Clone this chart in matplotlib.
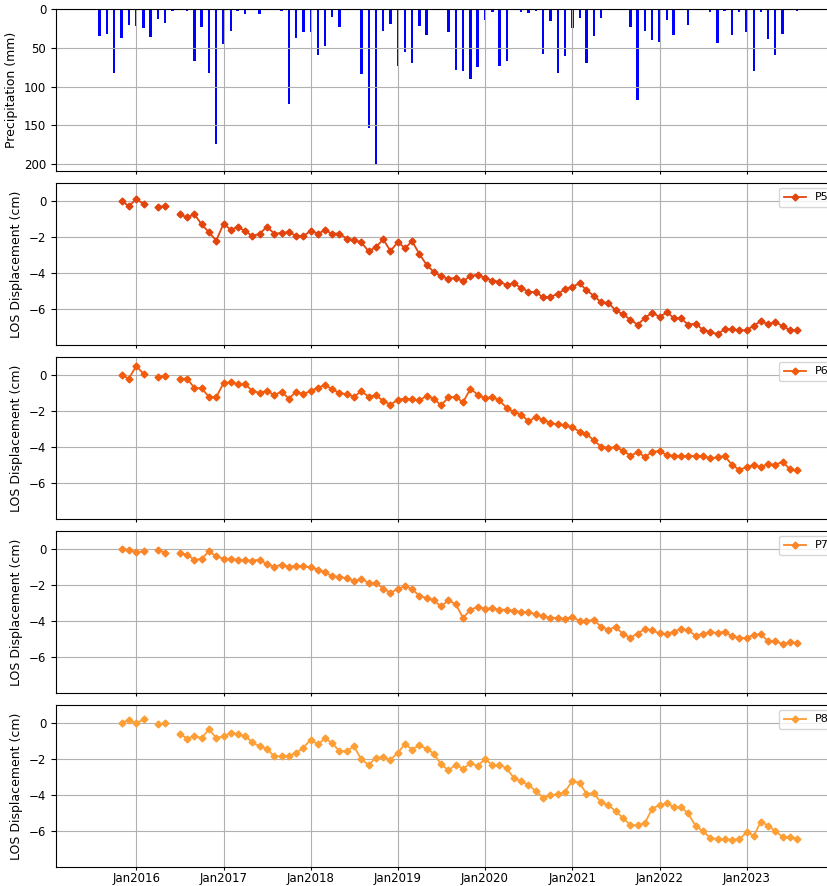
import datetime as dt

import matplotlib
matplotlib.use("Agg")
import matplotlib.dates as mdates
import matplotlib.pyplot as plt
import numpy as np
import pandas as pd

nan = np.nan

# Monthly precipitation, Jul 2015 .. Aug 2023 (mm)
precip_mm = [
    1.7, 35, 32, 82, 37.5, 21,                          # 2015 Jul-Dec
    21.5, 25, 36, 13, 18.5, 2.6, 0, 3, 67, 23, 82, 174,  # 2016
    45, 29, 2, 7, 0, 7, 0, 0, 3, 123, 37, 30,            # 2017
    30, 59.5, 48, 10, 23, 0, 0, 84, 153, 199.6, 29, 19,  # 2018
    74, 56, 70, 22.4, 33.6, 0, 1.7, 30, 79, 80.6, 90, 75,  # 2019
    14, 4.3, 73, 67.7, 0, 3.4, 5.6, 3, 57.8, 16, 82.8, 61,  # 2020
    24.6, 12, 70, 34.5, 12, 0, 0, 1.3, 23, 117, 29, 40,     # 2021
    43, 14, 33, 1.3, 21, 0, 0, 3.4, 44, 2.2, 33.6, 4.3,     # 2022
    30, 80, 4.3, 39, 59.5, 32, 0, 3,                        # 2023 Jan-Aug
]

# Monthly LOS displacement, Nov 2015 .. Aug 2023 (cm); NaN = no acquisition
p5 = [
    0.0, -0.28,
    0.09, -0.15, nan, -0.31, -0.30, nan, -0.74, -0.91, -0.74, -1.30, -1.74, -2.20,
    -1.26, -1.61, -1.43, -1.67, -1.94, -1.83, -1.43, -1.81, -1.78, -1.72, -1.94, -1.94,
    -1.67, -1.81, -1.63, -1.81, -1.81, -2.09, -2.17, -2.30, -2.80, -2.56, -2.13, -2.78,
    -2.28, -2.63, -2.22, -2.94, -3.54, -3.95, -4.19, -4.31, -4.28, -4.46, -4.17, -4.09,
    -4.28, -4.43, -4.48, -4.67, -4.57, -4.83, -5.04, -5.07, -5.35, -5.31, -5.17, -4.89,
    -4.76, -4.57, -4.96, -5.26, -5.63, -5.67, -6.07, -6.30, -6.59, -6.87, -6.50, -6.20,
    -6.44, -6.19, -6.48, -6.52, -6.87, -6.81, -7.15, -7.28, -7.39, -7.13, -7.11, -7.19,
    -7.17, -6.93, -6.67, -6.85, -6.72, -6.96, -7.17, -7.17,
]
p6 = [
    0.0, -0.20,
    0.50, 0.06, nan, -0.09, -0.06, nan, -0.22, -0.20, -0.72, -0.74, -1.22, -1.24,
    -0.44, -0.41, -0.52, -0.52, -0.87, -1.00, -0.87, -1.11, -0.93, -1.31, -0.93, -1.06,
    -0.89, -0.70, -0.57, -0.78, -1.00, -1.07, -1.20, -0.91, -1.20, -1.13, -1.44, -1.65,
    -1.37, -1.31, -1.35, -1.41, -1.17, -1.32, -1.69, -1.24, -1.22, -1.52, -0.76, -1.09,
    -1.30, -1.22, -1.41, -1.83, -2.04, -2.20, -2.57, -2.33, -2.50, -2.67, -2.74, -2.80,
    -2.91, -3.15, -3.28, -3.63, -3.98, -4.06, -4.00, -4.20, -4.48, -4.30, -4.54, -4.30,
    -4.20, -4.46, -4.48, -4.50, -4.50, -4.50, -4.50, -4.63, -4.57, -4.50, -5.00, -5.26,
    -5.13, -4.98, -5.13, -4.93, -5.00, -4.81, -5.24, -5.30,
]
p7 = [
    0.0, -0.04,
    -0.19, -0.13, nan, -0.07, -0.20, nan, -0.22, -0.31, -0.61, -0.54, -0.13, -0.41,
    -0.54, -0.54, -0.61, -0.63, -0.65, -0.59, -0.85, -0.98, -0.87, -0.98, -0.94, -0.96,
    -1.02, -1.15, -1.28, -1.52, -1.54, -1.63, -1.78, -1.65, -1.89, -1.89, -2.20, -2.43,
    -2.22, -2.06, -2.22, -2.61, -2.72, -2.86, -3.19, -2.85, -3.07, -3.83, -3.37, -3.22,
    -3.31, -3.30, -3.37, -3.37, -3.44, -3.50, -3.52, -3.63, -3.74, -3.83, -3.83, -3.87,
    -3.78, -4.00, -4.00, -3.93, -4.33, -4.48, -4.33, -4.72, -4.93, -4.70, -4.44, -4.52,
    -4.69, -4.72, -4.59, -4.44, -4.52, -4.81, -4.72, -4.63, -4.65, -4.61, -4.85, -4.94,
    -4.93, -4.78, -4.72, -5.13, -5.13, -5.28, -5.19, -5.20,
]
p8 = [
    0.0, 0.17,
    -0.02, 0.20, nan, -0.07, -0.02, nan, -0.59, -0.87, -0.74, -0.83, -0.35, -0.83,
    -0.74, -0.56, -0.63, -0.72, -1.07, -1.30, -1.43, -1.85, -1.85, -1.83, -1.67, -1.37,
    -0.93, -1.19, -0.85, -1.11, -1.57, -1.56, -1.30, -2.02, -2.33, -1.93, -1.91, -2.04,
    -1.65, -1.15, -1.48, -1.24, -1.43, -1.70, -2.30, -2.63, -2.31, -2.56, -2.22, -2.39,
    -2.00, -2.35, -2.31, -2.52, -3.06, -3.24, -3.44, -3.78, -4.15, -4.02, -3.96, -3.83,
    -3.20, -3.33, -3.94, -3.91, -4.41, -4.57, -4.89, -5.28, -5.67, -5.69, -5.56, -4.76,
    -4.56, -4.46, -4.67, -4.67, -5.02, -5.72, -6.00, -6.37, -6.46, -6.46, -6.48, -6.46,
    -6.07, -6.26, -5.48, -5.70, -6.00, -6.33, -6.33, -6.44,
]

point_names = ["P5", "P6", "P7", "P8"]
point_series = [p5, p6, p7, p8]
point_colors = ["#e2440e", "#f25b0c", "#fb8629", "#fd9f34"]

precip_dates = pd.date_range("2015-07-01", periods=len(precip_mm), freq="MS")
disp_dates = pd.date_range("2015-11-01", periods=len(p5), freq="MS")

plt.rcParams["font.size"] = 9
plt.rcParams["xtick.labelsize"] = 8.5
plt.rcParams["ytick.labelsize"] = 8.5

W, H = 827, 886
fig = plt.figure(figsize=(W / 100, H / 100), dpi=100)


def _axes_px(left, top, right, bottom):
    return fig.add_axes([left / W, 1 - bottom / H, (right - left) / W, (bottom - top) / H])


x_left, x_right = 56, 829
ax_p = _axes_px(x_left, 9, x_right, 171)
panel_tops = [183, 357, 531, 705]
panel_axes = [_axes_px(x_left, t, x_right, t + 162) for t in panel_tops]

xlim = (dt.datetime(2015, 1, 30), dt.datetime(2023, 12, 12))

# Precipitation (inverted bars hanging from the top)
ax_p.bar(precip_dates, precip_mm, width=10, color="blue")
ax_p.set_ylim(209, 0)
ax_p.set_yticks([0, 50, 100, 150, 200])
ax_p.set_ylabel("Precipitation (mm)")

width_px = x_right - x_left
for ax, name, series, color in zip(panel_axes, point_names, point_series, point_colors):
    ax.plot(disp_dates, series, "-D", color=color, markersize=3.5, lw=1.3, label=name)
    ax.set_ylim(-8, 1)
    ax.set_yticks([0, -2, -4, -6])
    ax.set_ylabel("LOS Displacement (cm)")
    ax.legend(loc="upper right", fontsize=8, borderaxespad=0,
              bbox_to_anchor=(1 + 4 / width_px, 1 - 5 / 162))

for ax in [ax_p] + panel_axes:
    ax.set_xlim(*xlim)
    ax.xaxis.set_major_locator(mdates.YearLocator())
    ax.xaxis.set_major_formatter(mdates.DateFormatter("%b%Y"))
    ax.tick_params(axis="x", length=2.5, pad=1)
    ax.grid(True)
    if ax is not panel_axes[-1]:
        ax.tick_params(labelbottom=False)

fig.savefig("out.png", dpi=100)
plt.close(fig)
